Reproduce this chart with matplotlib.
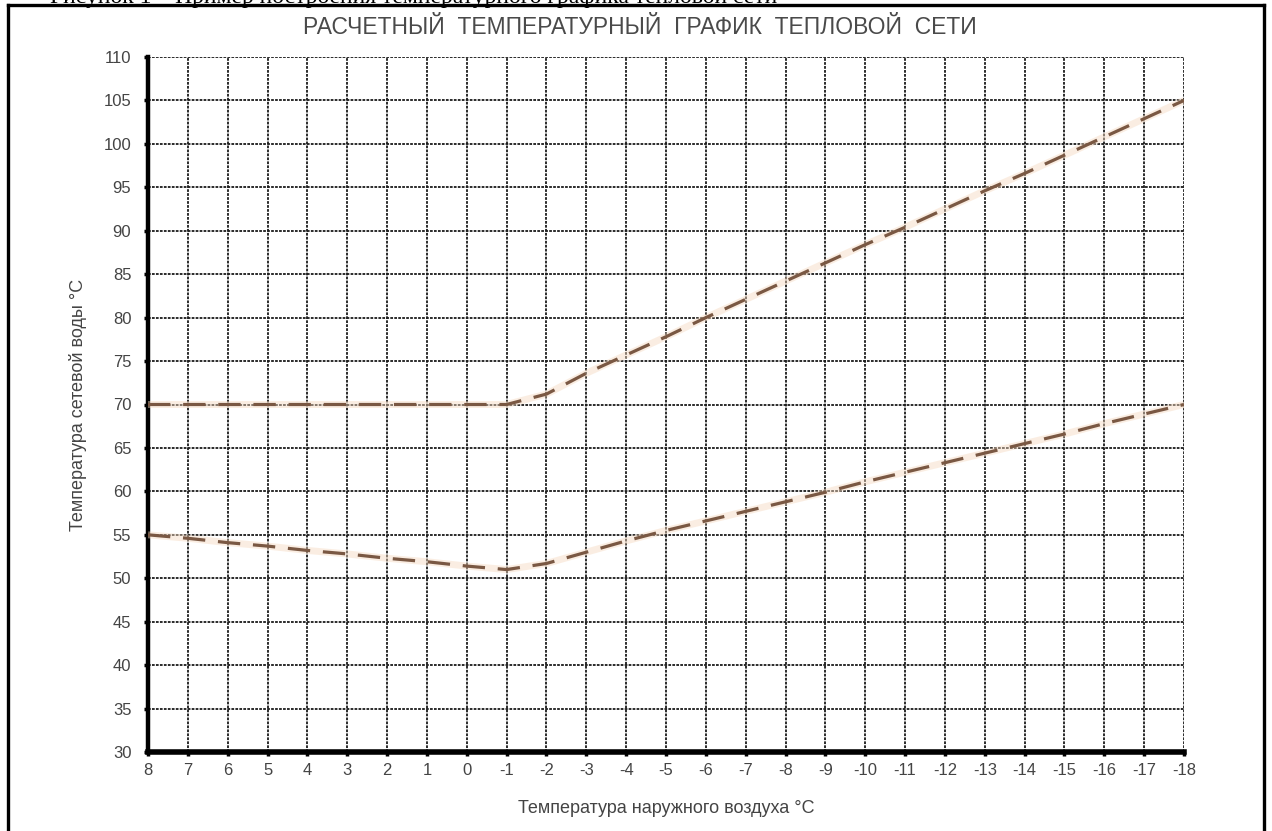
import matplotlib
matplotlib.use("Agg")
import matplotlib.pyplot as plt
from matplotlib.lines import Line2D

# outdoor air temperature, deg C
outdoor_temp = [8, 7, 6, 5, 4, 3, 2, 1, 0, -1, -2, -3, -4, -5, -6, -7, -8, -9,
                -10, -11, -12, -13, -14, -15, -16, -17, -18]

# supply water temperature (upper curve)
supply_temp = [70, 70, 70, 70, 70, 70, 70, 70, 70, 70, 71.2, 73.6, 75.7, 77.8,
               80.0, 82.1, 84.2, 86.3, 88.4, 90.4, 92.5, 94.6, 96.6, 98.7,
               100.8, 102.9, 105]

# return water temperature (lower curve)
return_temp = [55, 54.6, 54.1, 53.7, 53.2, 52.8, 52.3, 51.9, 51.4, 51.0, 51.7,
               53.0, 54.3, 55.5, 56.6, 57.7, 58.8, 59.9, 61.1, 62.2, 63.3,
               64.4, 65.5, 66.6, 67.8, 68.9, 70]

y_ticks = list(range(30, 111, 5))

title = "РАСЧЕТНЫЙ  ТЕМПЕРАТУРНЫЙ  ГРАФИК  ТЕПЛОВОЙ  СЕТИ"
x_label = "Температура наружного воздуха °С"
y_label = "Температура сетевой воды °С"
page_line = "Рисунок 1 – Пример построения температурного графика тепловой сети"

plt.rcParams["font.family"] = ["Liberation Sans", "DejaVu Sans"]

fig = plt.figure(figsize=(12.72, 8.31), dpi=100)
ax = fig.add_axes([148 / 1272, 79 / 831, 1036 / 1272, 695 / 831])

line_color = "#7a5843"
glow_color = "#f6d9bf"
for series in (supply_temp, return_temp):
    ax.plot(outdoor_temp, series, color=glow_color, lw=5, alpha=0.45,
            solid_capstyle="butt", zorder=3)
    ax.plot(outdoor_temp, series, color=line_color, lw=2.3,
            dashes=(7, 4), zorder=4)

ax.set_xlim(8, -18)
ax.set_ylim(30, 110)
ax.set_xticks(outdoor_temp)
ax.set_xticklabels([str(v) for v in outdoor_temp])
ax.set_yticks(y_ticks)

ax.grid(True, color="#1a1a1a", lw=1.3, linestyle=(0, (1.5, 0.7)))
ax.set_axisbelow(True)

for side in ("top", "right"):
    ax.spines[side].set_visible(False)
ax.spines["left"].set_linewidth(3.2)
ax.spines["bottom"].set_linewidth(4)

ax.tick_params(axis="both", direction="out", length=3, width=2.5,
               color="black", labelcolor="#444444", labelsize=12)
ax.tick_params(axis="y", pad=9)
ax.tick_params(axis="x", pad=5)

ax.set_xlabel(x_label, fontsize=13, color="#444444", labelpad=16)
ax.set_ylabel(y_label, fontsize=13, color="#444444", labelpad=12)

fig.text(640 / 1272, 1 - 28 / 831, title, ha="center", va="center",
         fontsize=16.5, color="#4a4a4a")

# cut-off line of document text above the frame
fig.text(50 / 1272, 1 + 3 / 831, page_line, ha="left", va="center",
         fontsize=17, family=["Liberation Serif", "DejaVu Serif"], color="black")

# document frame
frame_kw = dict(color="black", lw=2.4, transform=fig.transFigure)
fig.add_artist(Line2D([8 / 1272, 1264 / 1272], [1 - 5 / 831, 1 - 5 / 831], **frame_kw))
fig.add_artist(Line2D([8 / 1272, 8 / 1272], [0, 1 - 5 / 831], **frame_kw))
fig.add_artist(Line2D([1264 / 1272, 1264 / 1272], [0, 1 - 5 / 831], **frame_kw))

fig.savefig("out.png", dpi=100)
